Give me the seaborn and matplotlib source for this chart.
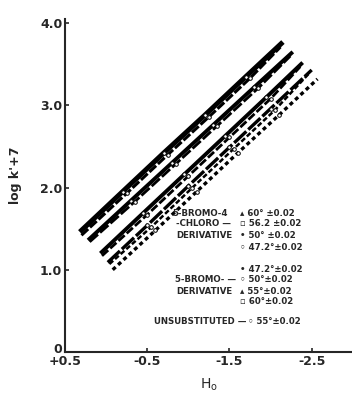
import numpy as np
import pandas as pd
import matplotlib
matplotlib.use("Agg")
import matplotlib.pyplot as plt
from matplotlib.transforms import ScaledTranslation
import seaborn as sns

# --- data (H0 vs log k' + 7) ---
bc60_h = [0.32, -0.20, -0.70, -1.20, -1.70, -2.15]
bc60_y = [1.46, 1.95, 2.42, 2.88, 3.35, 3.77]
bc56_h = [0.30, -0.25, -0.75, -1.25, -1.75, -2.12]
bc56_y = [1.42, 1.93, 2.40, 2.86, 3.33, 3.71]
bc50_h = [0.22, -0.30, -0.80, -1.30, -1.80, -2.27]
bc50_y = [1.36, 1.84, 2.30, 2.76, 3.22, 3.65]
b60_h = [0.20, -0.35, -0.85, -1.35, -1.85, -2.24]
b60_y = [1.34, 1.83, 2.29, 2.75, 3.21, 3.60]
bc47_h = [0.07, -0.45, -0.95, -1.45, -1.95, -2.39]
bc47_y = [1.20, 1.69, 2.16, 2.63, 3.10, 3.52]
b55_h = [0.05, -0.50, -1.00, -1.50, -2.00, -2.36]
b55_y = [1.17, 1.67, 2.14, 2.61, 3.08, 3.47]
b50_h = [-0.02, -0.50, -1.00, -1.50, -2.00, -2.50]
b50_y = [1.09, 1.54, 2.02, 2.49, 2.96, 3.43]
u55_h = [-0.04, -0.55, -1.05, -1.55, -2.05, -2.46]
u55_y = [1.07, 1.52, 2.00, 2.47, 2.94, 3.38]
b47_h = [-0.08, -0.60, -1.10, -1.60, -2.10, -2.57]
b47_y = [1.00, 1.48, 1.95, 2.42, 2.88, 3.32]

x_ticks = [0.5, -0.5, -1.5, -2.5]
x_labels = ["+0.5", "-0.5", "-1.5", "-2.5"]
y_ticks = [0, 1, 2, 3, 4]
y_labels = ["0", "1.0", "2.0", "3.0", "4.0"]

# name, H0, logk, linewidth, dash pattern (None = solid)
series = [
    ("bc60", bc60_h, bc60_y, 3.6, None),
    ("bc56", bc56_h, bc56_y, 2.2, (3, 0.8)),
    ("bc50", bc50_h, bc50_y, 2.8, None),
    ("b60", b60_h, b60_y, 2.0, (4, 1)),
    ("bc47", bc47_h, bc47_y, 2.8, None),
    ("b55", b55_h, b55_y, 2.0, (3, 1)),
    ("b50", b50_h, b50_y, 2.4, (5, 0.8)),
    ("u55", u55_h, u55_y, 1.8, (2, 1)),
    ("b47", b47_h, b47_y, 2.4, (1.2, 1.0)),
]

sns.set_style("ticks")
plt.rcParams["font.family"] = ["DejaVu Sans"]

fig = plt.figure(figsize=(3.52, 3.96), dpi=100)
ax = fig.add_axes([65 / 352, 44 / 396, (352 - 65) / 352, (352 - 19) / 396])

for name, h, y, lw, dashes in series:
    df = pd.DataFrame({"H0": h, "logk": y})
    sns.lineplot(data=df, x="H0", y="logk", ax=ax, color="black", lw=lw,
                 sort=False, legend=False)
    line = ax.lines[-1]
    line.set_solid_capstyle("butt")
    if dashes is not None:
        line.set_dashes(dashes)
        line.set_dash_capstyle("butt")
    # open points along the line
    ax.plot(h[1:-1], y[1:-1], ls="none", marker="o", ms=2.6,
            mfc="white", mec="black", mew=0.7)

ax.set_xlim(0.5, -2.99)
ax.set_ylim(0, 4.05)
ax.set_xticks(x_ticks)
ax.set_xticklabels(x_labels, fontsize=9, fontweight="bold")
ax.set_yticks(y_ticks)
ax.set_yticklabels(y_labels, fontsize=9, fontweight="bold")
ax.tick_params(direction="in", length=3, width=1.2, pad=2)
ax.set_xlabel(r"H$_\mathsf{o}$", fontsize=10, labelpad=6)
ax.set_ylabel("log k'+7", fontsize=9, fontweight="bold", labelpad=10)
ax.yaxis.set_label_coords(-0.15, 0.53)
sns.despine(ax=ax)
ax.spines["left"].set_linewidth(1.5)
ax.spines["bottom"].set_linewidth(1.5)

# lift the "0" label clear of "+0.5", as in the original
zero = ax.get_yticklabels()[0]
zero.set_transform(zero.get_transform() + ScaledTranslation(0, 4 / 100, fig.dpi_scale_trans))


def ftext(px, py, s, ha="left"):
    fig.text(px / 352, 1 - py / 396, s, ha=ha, va="center",
             fontsize=6.2, fontweight="bold")


ftext(228, 213, "5-BROMO-4", ha="right")
ftext(231, 224, "-CHLORO \u2014", ha="right")
ftext(232, 235, "DERIVATIVE", ha="right")
ftext(240, 213, "\u25b4 60\u00b0 \u00b10.02")
ftext(240, 224, "\u25ab 56.2 \u00b10.02")
ftext(240, 235, "\u2022 50\u00b0 \u00b10.02")
ftext(240, 247, "\u25e6 47.2\u00b0\u00b10.02")

ftext(240, 269, "\u2022 47.2\u00b0\u00b10.02")
ftext(236, 280, "5-BROMO- \u2014", ha="right")
ftext(240, 280, "\u25e6 50\u00b0\u00b10.02")
ftext(232, 291, "DERIVATIVE", ha="right")
ftext(240, 291, "\u25b4 55\u00b0\u00b10.02")
ftext(240, 302, "\u25ab 60\u00b0\u00b10.02")

ftext(246, 322, "UNSUBSTITUTED \u2014", ha="right")
ftext(248, 322, "\u25e6 55\u00b0\u00b10.02")

fig.savefig("out.png", dpi=100)
